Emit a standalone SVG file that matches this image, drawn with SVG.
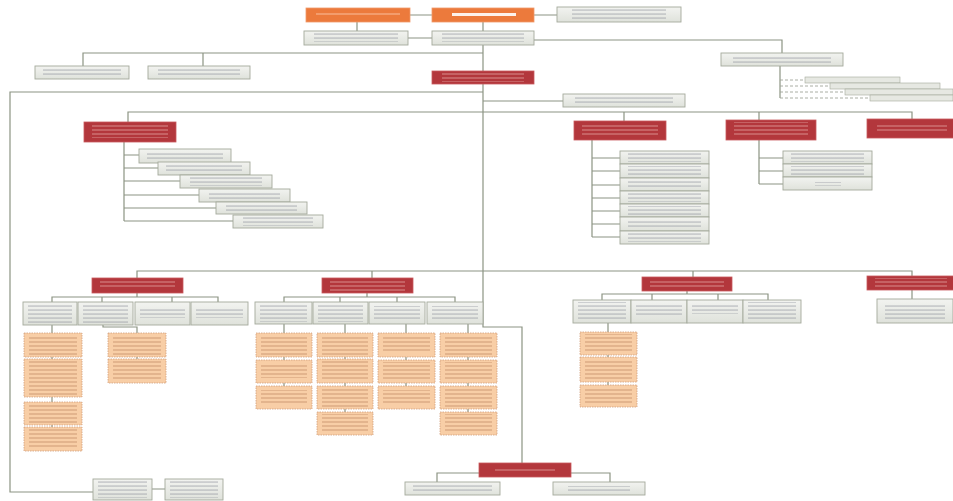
<svg xmlns="http://www.w3.org/2000/svg" width="953" height="501" viewBox="0 0 953 501">
<defs>
<pattern id="tg" width="6" height="4" patternUnits="userSpaceOnUse"><rect y="1.5" width="6" height="1.1" fill="#8d939c" opacity="0.6"/></pattern>
<pattern id="tr" width="6" height="4" patternUnits="userSpaceOnUse"><rect y="1.5" width="6" height="1" fill="#eab0ae" opacity="0.7"/></pattern>
<pattern id="to" width="6" height="4" patternUnits="userSpaceOnUse"><rect y="1.5" width="6" height="1" fill="#a9714c" opacity="0.55"/></pattern>
<pattern id="tw" width="6" height="4" patternUnits="userSpaceOnUse"><rect y="1.5" width="6" height="1" fill="#fbd0b4" opacity="0.8"/></pattern>
<linearGradient id="gg" x1="0" y1="0" x2="0" y2="1"><stop offset="0" stop-color="#f2f3f0"/><stop offset="1" stop-color="#dfe2db"/></linearGradient>
</defs>
<style>
.g{fill:url(#gg);stroke:#a4a99b;stroke-width:0.9}
.r{fill:#b3373c;stroke:#c8595c;stroke-width:0.8}
.o{fill:#ec7a3c;stroke:#f09a6a;stroke-width:0.8}
.p{fill:#f8cea6;stroke:#d0a07c;stroke-width:0.8;stroke-dasharray:1.5 1}
.tg{fill:url(#tg)}.tr{fill:url(#tr)}.to{fill:url(#to)}.tw{fill:url(#tw)}
.c{fill:none;stroke:#8c9483;stroke-width:1.2}
.d{fill:none;stroke:#a0a59a;stroke-width:0.9;stroke-dasharray:3 2}
.s{fill:#e6e8e2;stroke:#a4a99b;stroke-width:0.6}
</style>
<rect width="953" height="501" fill="#ffffff"/>
<g id="connectors">
<path class="c" d="M410 15H432M534 15H557M357 22V31M408 38H432M534 40H782V53"/>
<path class="c" d="M483 22V327H522V463"/>
<path class="c" d="M83 66V53H483M203 53V66"/>
<path class="c" d="M483 92H10V492H93M152 489H165"/>
<path class="c" d="M483 101H563"/>
<path class="c" d="M128 122V112H912V119M624 112V121M759 112V120"/>
<path class="c" d="M124 142V221M124 155H139M124 168H158M124 181H180M124 195H199M124 208H216M124 221H233"/>
<path class="c" d="M592 140V237M592 158H620M592 171H620M592 185H620M592 198H620M592 211H620M592 224H620M592 237H620"/>
<path class="c" d="M759 140V184M759 158H783M759 171H783M759 184H783"/>
<path class="c" d="M780 66V98"/>
<path class="d" d="M780 80H805M780 86H830M780 92H845M780 98H870"/>
<path class="c" d="M137 278V271H912V276M372 271V278M693 271V277"/>
<path class="c" d="M137 293V297M52 302V297H218V302M102 297V302M172 297V302"/>
<path class="c" d="M52 325V333M52 357V359M52 397V402M52 425V427M103 325V327H137V333M137 357V359"/>
<path class="c" d="M367 293V297M284 302V297H455V302M340 297V302M397 297V302"/>
<path class="c" d="M284 324V333M284 357V360M284 383V386M345 324V333M345 357V359M345 383V386M345 409V412M406 324V333M406 357V360M406 383V386M468 324V333M468 357V360M468 383V386M468 409V412"/>
<path class="c" d="M687 291V294M602 300V294H768V300M652 294V300M718 294V300M608 323V332M608 355V357M608 382V385"/>
<path class="c" d="M912 290V299"/>
<path class="c" d="M479 473H437V482M571 473H610V482"/>
</g>
<g id="n-top-left"><rect class="o" x="306" y="8" width="104" height="14"/><rect class="tw" x="316" y="12" width="84" height="5"/></g>
<g id="n-top-center"><rect class="o" x="432" y="8" width="102" height="14"/><rect x="452" y="13" width="64" height="3" fill="#fff" opacity="0.9"/></g>
<g id="n-top-right"><rect class="g" x="557" y="7" width="124" height="15"/><rect class="tg" x="572" y="9" width="94" height="11"/></g>
<g id="n-sub-left"><rect class="g" x="304" y="31" width="104" height="14"/><rect class="tg" x="314" y="33" width="84" height="9"/></g>
<g id="n-sub-center"><rect class="g" x="432" y="31" width="102" height="14"/><rect class="tg" x="442" y="33" width="82" height="9"/></g>
<g id="n-right-a"><rect class="g" x="721" y="53" width="122" height="13"/><rect class="tg" x="733" y="55" width="98" height="9"/></g>
<g id="n-right-s1"><rect class="s" x="805" y="77" width="95" height="6"/></g>
<g id="n-right-s2"><rect class="s" x="830" y="83" width="110" height="6"/></g>
<g id="n-right-s3"><rect class="s" x="845" y="89" width="108" height="6"/></g>
<g id="n-right-s4"><rect class="s" x="870" y="95" width="83" height="6"/></g>
<g id="n-l1"><rect class="g" x="35" y="66" width="94" height="13"/><rect class="tg" x="43" y="68" width="78" height="9"/></g>
<g id="n-l2"><rect class="g" x="148" y="66" width="102" height="13"/><rect class="tg" x="158" y="68" width="82" height="9"/></g>
<g id="n-red-main"><rect class="r" x="432" y="71" width="102" height="13"/><rect class="tr" x="442" y="73" width="82" height="9"/></g>
<g id="n-mid-note"><rect class="g" x="563" y="94" width="122" height="13"/><rect class="tg" x="575" y="96" width="98" height="9"/></g>
<g id="n-r2"><rect class="r" x="84" y="122" width="92" height="20"/><rect class="tr" x="92" y="124" width="76" height="14"/></g>
<g id="n-r3"><rect class="r" x="574" y="121" width="92" height="19"/><rect class="tr" x="582" y="123" width="76" height="14"/></g>
<g id="n-r4"><rect class="r" x="726" y="120" width="90" height="20"/><rect class="tr" x="734" y="122" width="74" height="14"/></g>
<g id="n-r5"><rect class="r" x="867" y="119" width="90" height="19"/><rect class="tr" x="877" y="125" width="70" height="6"/></g>
<g id="n-r2-1"><rect class="g" x="139" y="149" width="92" height="14"/><rect class="tg" x="147" y="151" width="76" height="9"/></g>
<g id="n-r2-2"><rect class="g" x="158" y="162" width="92" height="13"/><rect class="tg" x="166" y="164" width="76" height="9"/></g>
<g id="n-r2-3"><rect class="g" x="180" y="175" width="92" height="13"/><rect class="tg" x="190" y="177" width="72" height="9"/></g>
<g id="n-r2-4"><rect class="g" x="199" y="189" width="91" height="13"/><rect class="tg" x="209" y="191" width="71" height="9"/></g>
<g id="n-r2-5"><rect class="g" x="216" y="202" width="91" height="12"/><rect class="tg" x="226" y="204" width="71" height="8"/></g>
<g id="n-r2-6"><rect class="g" x="233" y="215" width="90" height="13"/><rect class="tg" x="243" y="217" width="70" height="9"/></g>
<g id="n-r3-1"><rect class="g" x="620" y="151" width="89" height="13"/><rect class="tg" x="628" y="153" width="73" height="9"/></g>
<g id="n-r3-2"><rect class="g" x="620" y="164" width="89" height="14"/><rect class="tg" x="628" y="166" width="73" height="9"/></g>
<g id="n-r3-3"><rect class="g" x="620" y="178" width="89" height="13"/><rect class="tg" x="628" y="180" width="73" height="9"/></g>
<g id="n-r3-4"><rect class="g" x="620" y="191" width="89" height="13"/><rect class="tg" x="628" y="193" width="73" height="9"/></g>
<g id="n-r3-5"><rect class="g" x="620" y="204" width="89" height="13"/><rect class="tg" x="628" y="206" width="73" height="9"/></g>
<g id="n-r3-6"><rect class="g" x="620" y="217" width="89" height="14"/><rect class="tg" x="628" y="219" width="73" height="9"/></g>
<g id="n-r3-7"><rect class="g" x="620" y="231" width="89" height="13"/><rect class="tg" x="628" y="233" width="73" height="9"/></g>
<g id="n-r4-1"><rect class="g" x="783" y="151" width="89" height="13"/><rect class="tg" x="791" y="153" width="73" height="9"/></g>
<g id="n-r4-2"><rect class="g" x="783" y="164" width="89" height="13"/><rect class="tg" x="791" y="166" width="73" height="9"/></g>
<g id="n-r4-3"><rect class="g" x="783" y="177" width="89" height="13"/><rect class="tg" x="815" y="182" width="26" height="4"/></g>
<g id="n-A"><rect class="r" x="92" y="278" width="91" height="15"/><rect class="tr" x="100" y="280" width="75" height="9"/></g>
<g id="n-B"><rect class="r" x="322" y="278" width="91" height="15"/><rect class="tr" x="330" y="280" width="75" height="11"/></g>
<g id="n-C"><rect class="r" x="642" y="277" width="90" height="14"/><rect class="tr" x="650" y="279" width="74" height="9"/></g>
<g id="n-D"><rect class="r" x="867" y="276" width="90" height="14"/><rect class="tr" x="875" y="278" width="72" height="10"/></g>
<g id="n-A1"><rect class="g" x="23" y="302" width="54" height="23"/><rect class="tg" x="28" y="304" width="44" height="19"/></g>
<g id="n-A2"><rect class="g" x="78" y="302" width="55" height="23"/><rect class="tg" x="83" y="304" width="45" height="19"/></g>
<g id="n-A3"><rect class="g" x="135" y="302" width="55" height="23"/><rect class="tg" x="140" y="308" width="45" height="10"/></g>
<g id="n-A4"><rect class="g" x="191" y="302" width="57" height="23"/><rect class="tg" x="196" y="308" width="47" height="10"/></g>
<g id="n-A1-1"><rect class="p" x="24" y="333" width="58" height="24"/><rect class="to" x="29" y="335" width="48" height="20"/></g>
<g id="n-A1-2"><rect class="p" x="24" y="359" width="58" height="38"/><rect class="to" x="29" y="361" width="48" height="34"/></g>
<g id="n-A1-3"><rect class="p" x="24" y="402" width="58" height="23"/><rect class="to" x="29" y="404" width="48" height="19"/></g>
<g id="n-A1-4"><rect class="p" x="24" y="427" width="58" height="24"/><rect class="to" x="29" y="429" width="48" height="20"/></g>
<g id="n-A2-1"><rect class="p" x="108" y="333" width="58" height="24"/><rect class="to" x="113" y="335" width="48" height="20"/></g>
<g id="n-A2-2"><rect class="p" x="108" y="359" width="58" height="24"/><rect class="to" x="113" y="361" width="48" height="20"/></g>
<g id="n-B1"><rect class="g" x="255" y="302" width="57" height="22"/><rect class="tg" x="260" y="304" width="47" height="18"/></g>
<g id="n-B2"><rect class="g" x="313" y="302" width="55" height="22"/><rect class="tg" x="318" y="304" width="45" height="18"/></g>
<g id="n-B3"><rect class="g" x="369" y="302" width="56" height="22"/><rect class="tg" x="374" y="306" width="46" height="14"/></g>
<g id="n-B4"><rect class="g" x="427" y="302" width="56" height="22"/><rect class="tg" x="432" y="306" width="46" height="14"/></g>
<g id="n-B1-1"><rect class="p" x="256" y="333" width="56" height="24"/><rect class="to" x="261" y="335" width="46" height="20"/></g>
<g id="n-B1-2"><rect class="p" x="256" y="360" width="56" height="23"/><rect class="to" x="261" y="364" width="46" height="14"/></g>
<g id="n-B1-3"><rect class="p" x="256" y="386" width="56" height="23"/><rect class="to" x="261" y="390" width="46" height="14"/></g>
<g id="n-B2-1"><rect class="p" x="317" y="333" width="56" height="24"/><rect class="to" x="322" y="335" width="46" height="20"/></g>
<g id="n-B2-2"><rect class="p" x="317" y="359" width="56" height="24"/><rect class="to" x="322" y="361" width="46" height="20"/></g>
<g id="n-B2-3"><rect class="p" x="317" y="386" width="56" height="23"/><rect class="to" x="322" y="388" width="46" height="19"/></g>
<g id="n-B2-4"><rect class="p" x="317" y="412" width="56" height="23"/><rect class="to" x="322" y="414" width="46" height="19"/></g>
<g id="n-B3-1"><rect class="p" x="378" y="333" width="57" height="24"/><rect class="to" x="383" y="337" width="47" height="14"/></g>
<g id="n-B3-2"><rect class="p" x="378" y="360" width="57" height="23"/><rect class="to" x="383" y="362" width="47" height="19"/></g>
<g id="n-B3-3"><rect class="p" x="378" y="386" width="57" height="23"/><rect class="to" x="383" y="390" width="47" height="14"/></g>
<g id="n-B4-1"><rect class="p" x="440" y="333" width="57" height="24"/><rect class="to" x="445" y="335" width="47" height="20"/></g>
<g id="n-B4-2"><rect class="p" x="440" y="360" width="57" height="23"/><rect class="to" x="445" y="362" width="47" height="19"/></g>
<g id="n-B4-3"><rect class="p" x="440" y="386" width="57" height="23"/><rect class="to" x="445" y="388" width="47" height="19"/></g>
<g id="n-B4-4"><rect class="p" x="440" y="412" width="57" height="23"/><rect class="to" x="445" y="414" width="47" height="19"/></g>
<g id="n-C1"><rect class="g" x="573" y="300" width="58" height="23"/><rect class="tg" x="578" y="302" width="48" height="19"/></g>
<g id="n-C2"><rect class="g" x="631" y="300" width="56" height="23"/><rect class="tg" x="636" y="303" width="46" height="14"/></g>
<g id="n-C3"><rect class="g" x="687" y="300" width="56" height="23"/><rect class="tg" x="692" y="304" width="46" height="10"/></g>
<g id="n-C4"><rect class="g" x="743" y="300" width="58" height="23"/><rect class="tg" x="748" y="302" width="48" height="19"/></g>
<g id="n-C1-1"><rect class="p" x="580" y="332" width="57" height="23"/><rect class="to" x="585" y="334" width="47" height="19"/></g>
<g id="n-C1-2"><rect class="p" x="580" y="357" width="57" height="25"/><rect class="to" x="585" y="359" width="47" height="21"/></g>
<g id="n-C1-3"><rect class="p" x="580" y="385" width="57" height="22"/><rect class="to" x="585" y="389" width="47" height="14"/></g>
<g id="n-D1"><rect class="g" x="877" y="299" width="76" height="24"/><rect class="tg" x="885" y="303" width="60" height="17"/></g>
<g id="n-E"><rect class="r" x="479" y="463" width="92" height="14"/><rect class="tr" x="495" y="467" width="60" height="5"/></g>
<g id="n-E1"><rect class="g" x="405" y="482" width="95" height="13"/><rect class="tg" x="413" y="484" width="79" height="9"/></g>
<g id="n-E2"><rect class="g" x="553" y="482" width="92" height="13"/><rect class="tg" x="568" y="486" width="62" height="5"/></g>
<g id="n-BL1"><rect class="g" x="93" y="479" width="59" height="21"/><rect class="tg" x="98" y="481" width="49" height="17"/></g>
<g id="n-BL2"><rect class="g" x="165" y="479" width="58" height="21"/><rect class="tg" x="170" y="481" width="48" height="17"/></g>
</svg>
